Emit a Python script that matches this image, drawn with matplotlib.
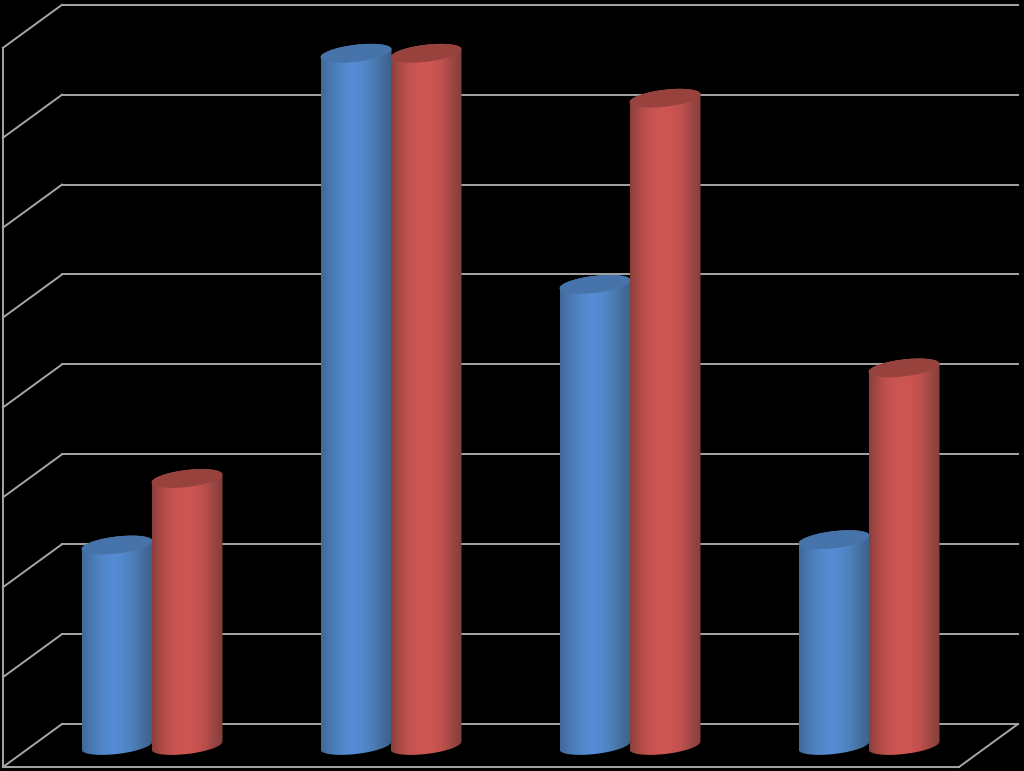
import numpy as np
import matplotlib
matplotlib.use("Agg")
import matplotlib.pyplot as plt
from matplotlib.colors import LinearSegmentedColormap
from matplotlib.patches import PathPatch, Polygon
from matplotlib.path import Path

# values, no labels in the original
categories = [0, 1, 2, 3]
series_blue = [2.23, 7.7, 5.13, 2.29]
series_red = [2.97, 7.7, 7.2, 4.2]
gridlines = [0, 1, 2, 3, 4, 5, 6, 7, 8]

FIG_W, FIG_H = 1024, 771
CAT_PX = 239.0
VAL_PX = 89.9
LEFT_PX = 3
FLOOR_PX = 724

# 3d look: how far the back wall is shifted from the front plane
DEPTH_X = 59 / CAT_PX
DEPTH_Y = 43 / VAL_PX

BAR_WIDTH = 71 / CAT_PX
BAR_STEP = 70 / CAT_PX
CAP_HEIGHT = 8.5 / VAL_PX
CAP_TILT = 4.0 / VAL_PX

GRID_COLOR = "#a6a6a6"
GRID_LW = 1.4
BLUE_BODY = ["#41699a", "#4a79b3", "#5186c8", "#558cd3", "#538ace", "#4d80ba", "#456f9f", "#3c608a"]
RED_BODY = ["#8a3f3b", "#b04b47", "#c65350", "#cd5652", "#cc5551", "#bf514d", "#a04844", "#803f3b"]
BLUE_CAP = "#4673a9"
RED_CAP = "#98423e"

fig = plt.figure(figsize=(FIG_W / 100, FIG_H / 100), dpi=100, facecolor="black")
ax = fig.add_axes([0, 0, 1, 1])
ax.set_facecolor("black")
ax.axis("off")

xlim = (-LEFT_PX / CAT_PX, (FIG_W - LEFT_PX) / CAT_PX)
ylim = ((FLOOR_PX - FIG_H) / VAL_PX, FLOOR_PX / VAL_PX)


def draw_walls():
    n = len(categories)
    for g in gridlines:
        ax.plot([DEPTH_X, n + DEPTH_X], [g, g], color=GRID_COLOR, lw=GRID_LW, zorder=1)
        ax.plot([0, DEPTH_X], [g - DEPTH_Y, g], color=GRID_COLOR, lw=GRID_LW, zorder=1)
    ax.plot([0, 0], [-DEPTH_Y, gridlines[-1] - DEPTH_Y], color=GRID_COLOR, lw=GRID_LW, zorder=1)
    ax.plot([0, n], [-DEPTH_Y, -DEPTH_Y], color=GRID_COLOR, lw=GRID_LW, zorder=1)
    ax.plot([n, n + DEPTH_X], [-DEPTH_Y, 0], color=GRID_COLOR, lw=GRID_LW, zorder=1)


def ellipse_points(cx, cy, t):
    return (cx + BAR_WIDTH / 2 * np.cos(t),
            cy + CAP_HEIGHT * np.sin(t) + CAP_TILT * np.cos(t))


def draw_cylinder(cx, value, colors, cap_color, zorder):
    base_y = -DEPTH_Y / 2
    top_y = value + base_y

    # body outline: lower half of the bottom ellipse, then up and along the top
    t_low = np.linspace(np.pi, 2 * np.pi, 60)
    t_top = np.linspace(0, np.pi, 60)
    bx, by = ellipse_points(cx, base_y, t_low)
    tx, ty = ellipse_points(cx, top_y, t_top)
    verts = np.column_stack([np.r_[bx, tx], np.r_[by, ty]])
    body = Polygon(verts, closed=True, transform=ax.transData, fc="none", ec="none")
    ax.add_patch(body)

    cmap = LinearSegmentedColormap.from_list("body", colors)
    grad = np.linspace(0, 1, 128).reshape(1, -1)
    img = ax.imshow(grad, cmap=cmap, aspect="auto", interpolation="bilinear", zorder=zorder,
                    extent=(cx - BAR_WIDTH / 2, cx + BAR_WIDTH / 2, verts[:, 1].min(), verts[:, 1].max()))
    img.set_clip_path(body)

    cx_pts, cy_pts = ellipse_points(cx, top_y, np.linspace(0, 2 * np.pi, 120))
    cap = Path(np.column_stack([cx_pts, cy_pts]))
    ax.add_patch(PathPatch(cap, fc=cap_color, ec="none", zorder=zorder + 0.5))


draw_walls()

for i in categories:
    center = i + 0.5 + DEPTH_X / 2
    draw_cylinder(center - BAR_STEP / 2, series_blue[i], BLUE_BODY, BLUE_CAP, 2)
    draw_cylinder(center + BAR_STEP / 2, series_red[i], RED_BODY, RED_CAP, 3)

ax.set_xlim(*xlim)
ax.set_ylim(*ylim)

fig.savefig("out.png", dpi=100, facecolor="black")
plt.close(fig)
